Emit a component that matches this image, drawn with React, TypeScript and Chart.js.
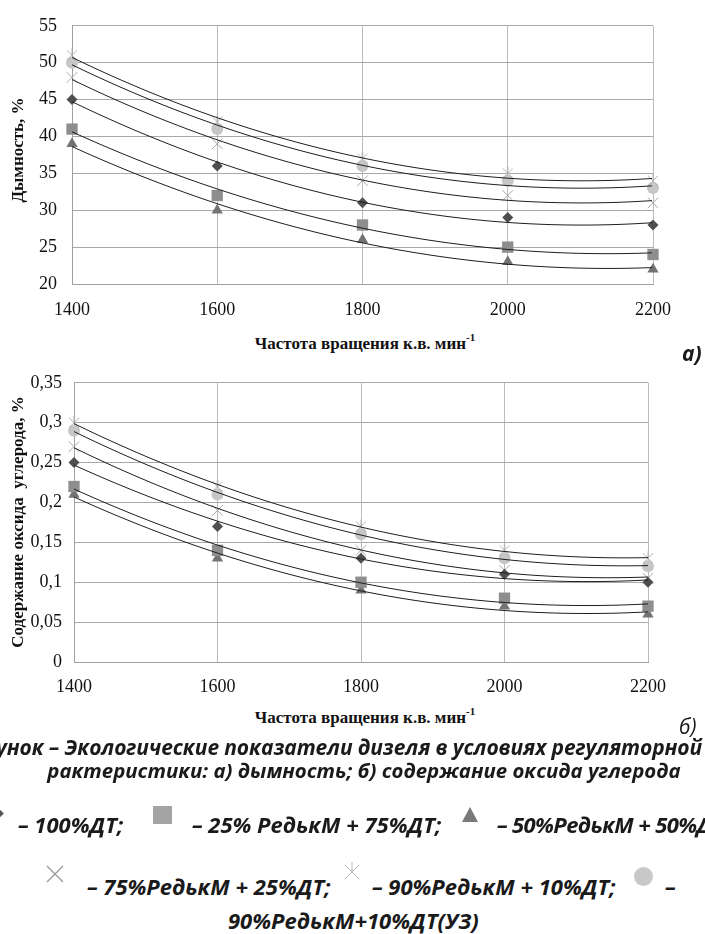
import React, { useEffect, useRef } from 'react';
import { Chart, registerables } from 'chart.js';

Chart.register(...registerables);

// ---------- data ----------
const rpm = [1400, 1600, 1800, 2000, 2200];
const xTicks = [1400, 1600, 1800, 2000, 2200];
const yTicksA = [20, 25, 30, 35, 40, 45, 50, 55];
const yTicksB = [0, 0.05, 0.1, 0.15, 0.2, 0.25, 0.3, 0.35];

const seriesNames = [
  '100%ДТ',
  '25% РедькМ + 75%ДТ',
  '50%РедькМ + 50%ДТ',
  '75%РедькМ + 25%ДТ',
  '90%РедькМ + 10%ДТ',
  '90%РедькМ+10%ДТ(УЗ)',
];

// а) дымность, %
const smokeDT100 = [45, 36, 31, 29, 28];
const smokeR25 = [41, 32, 28, 25, 24];
const smokeR50 = [39, 30, 26, 23, 22];
const smokeR75 = [48, 39, 34, 32, 31];
const smokeR90 = [51, 42, 37, 35, 34];
const smokeR90UZ = [50, 41, 36, 34, 33];

// б) содержание оксида углерода, %
const coDT100 = [0.25, 0.17, 0.13, 0.11, 0.1];
const coR25 = [0.22, 0.14, 0.1, 0.08, 0.07];
const coR50 = [0.21, 0.13, 0.09, 0.07, 0.06];
const coR75 = [0.27, 0.19, 0.14, 0.115, 0.105];
const coR90 = [0.3, 0.22, 0.17, 0.14, 0.13];
const coR90UZ = [0.29, 0.21, 0.16, 0.13, 0.12];

const smokeSeries = [smokeDT100, smokeR25, smokeR50, smokeR75, smokeR90, smokeR90UZ];
const coSeries = [coDT100, coR25, coR50, coR75, coR90, coR90UZ];

// ---------- helpers ----------
function quadFit(xs: number[], ys: number[]) {
  let s0 = 0, s1 = 0, s2 = 0, s3 = 0, s4 = 0, t0 = 0, t1 = 0, t2 = 0;
  const c0 = 1800, k = 400;
  for (let i = 0; i < xs.length; i++) {
    const t = (xs[i] - c0) / k;
    const y = ys[i];
    s0 += 1; s1 += t; s2 += t * t; s3 += t * t * t; s4 += t * t * t * t;
    t0 += y; t1 += y * t; t2 += y * t * t;
  }
  const det3 = (m: number[][]) =>
    m[0][0] * (m[1][1] * m[2][2] - m[1][2] * m[2][1]) -
    m[0][1] * (m[1][0] * m[2][2] - m[1][2] * m[2][0]) +
    m[0][2] * (m[1][0] * m[2][1] - m[1][1] * m[2][0]);
  const M = [[s0, s1, s2], [s1, s2, s3], [s2, s3, s4]];
  const R = [t0, t1, t2];
  const D = det3(M);
  const col = (j: number) => M.map((row, i) => row.map((v, jj) => (jj === j ? R[i] : v)));
  const a = det3(col(0)) / D;
  const b = det3(col(1)) / D;
  const c = det3(col(2)) / D;
  return (x: number) => {
    const t = (x - c0) / k;
    return a + b * t + c * t * t;
  };
}

const trendPlugin = {
  id: 'trendlines',
  afterDatasetsDraw(chart: any) {
    const { ctx } = chart;
    const xs = chart.scales.x;
    const ys = chart.scales.y;
    ctx.save();
    ctx.strokeStyle = '#1e1e1e';
    ctx.lineWidth = 1;
    chart.data.datasets.forEach((ds: any) => {
      const px = ds.data.map((p: any) => p.x);
      const py = ds.data.map((p: any) => p.y);
      const f = quadFit(px, py);
      const p0 = xs.getPixelForValue(px[0]);
      const p1 = xs.getPixelForValue(px[px.length - 1]);
      ctx.beginPath();
      for (let p = p0; p <= p1 + 0.01; p += 2) {
        const v = xs.getValueForPixel(Math.min(p, p1));
        const yy = ys.getPixelForValue(f(v));
        if (p === p0) ctx.moveTo(p, yy);
        else ctx.lineTo(Math.min(p, p1), yy);
      }
      ctx.stroke();
    });
    ctx.restore();
  },
};

function makeStar(color: string, size: number) {
  const c = document.createElement('canvas');
  c.width = size;
  c.height = size;
  const g = c.getContext('2d')!;
  g.strokeStyle = color;
  g.lineWidth = 1;
  const m = size / 2;
  const r = size / 2 - 1;
  const d = r * 0.72;
  g.beginPath();
  g.moveTo(m - d, m - d); g.lineTo(m + d, m + d);
  g.moveTo(m + d, m - d); g.lineTo(m - d, m + d);
  g.moveTo(m, m - r); g.lineTo(m, m + 1);
  g.stroke();
  return c;
}

function buildDatasets(series: number[][]) {
  const star = makeStar('#b0b0b0', 16);
  const styles: any[] = [
    { pointStyle: 'rectRot', radius: 5.5, backgroundColor: '#4f4f4f', borderColor: '#4f4f4f', borderWidth: 0 },
    { pointStyle: 'rect', radius: 8, backgroundColor: '#8e8e8e', borderColor: '#8e8e8e', borderWidth: 0 },
    { pointStyle: 'triangle', radius: 6.5, backgroundColor: '#737373', borderColor: '#737373', borderWidth: 0 },
    { pointStyle: 'crossRot', radius: 7.5, backgroundColor: '#a8a8a8', borderColor: '#a8a8a8', borderWidth: 1 },
    { pointStyle: star, radius: 8, backgroundColor: '#b0b0b0', borderColor: '#b0b0b0', borderWidth: 1 },
    { pointStyle: 'circle', radius: 6, backgroundColor: '#c6c6c6', borderColor: '#c6c6c6', borderWidth: 0 },
  ];
  return series.map((vals, i) => ({
    label: seriesNames[i],
    data: rpm.map((x, j) => ({ x, y: vals[j] })),
    showLine: false,
    clip: false,
    pointStyle: styles[i].pointStyle,
    pointRadius: styles[i].radius,
    pointBackgroundColor: styles[i].backgroundColor,
    pointBorderColor: styles[i].borderColor,
    pointBorderWidth: styles[i].borderWidth,
  }));
}

const tickFont = { family: '"Liberation Serif", "Times New Roman", serif', size: 18 };

function makeOptions(
  yMin: number, yMax: number, yTicks: number[], fmt: (v: number) => string,
  yPad: number, xPad: number, yWidth: number, xHeight: number, padding: any
) {
  return {
    responsive: false,
    animation: false as const,
    devicePixelRatio: 1,
    layout: { padding },
    plugins: { legend: { display: false }, tooltip: { enabled: false } },
    events: [] as any[],
    scales: {
      x: {
        type: 'linear' as const,
        min: 1400,
        max: 2200,
        afterBuildTicks: (s: any) => { s.ticks = xTicks.map((v) => ({ value: v })); },
        afterFit: (s: any) => { s.height = xHeight; },
        grid: { color: '#bcbcbc', lineWidth: 1, drawTicks: false },
        border: { color: '#a0a0a0', width: 1 },
        ticks: { font: tickFont, color: '#111', padding: xPad, maxRotation: 0, autoSkip: false, callback: (v: any) => String(v) },
      },
      y: {
        type: 'linear' as const,
        min: yMin,
        max: yMax,
        afterBuildTicks: (s: any) => { s.ticks = yTicks.map((v) => ({ value: v })); },
        afterFit: (s: any) => { s.width = yWidth; },
        grid: { color: '#a8a8a8', lineWidth: 1, drawTicks: false },
        border: { color: '#a0a0a0', width: 1 },
        ticks: { font: tickFont, color: '#111', padding: yPad, autoSkip: false, callback: (v: any) => fmt(v) },
      },
    },
  };
}

// ---------- component ----------
const serif = '"Liberation Serif", "Times New Roman", serif';
const capBase: React.CSSProperties = {
  position: 'absolute',
  fontFamily: '"Open Sans", Lato, sans-serif',
  fontWeight: 700,
  fontStyle: 'italic',
  fontSize: 21,
  lineHeight: '21px',
  color: '#1a1a1a',
  whiteSpace: 'pre',
};
const legBase: React.CSSProperties = { ...capBase, fontSize: 22, lineHeight: '22px' };

function Cap({ left, top, children, center, size, ls }: { left: number; top: number; children: any; center?: boolean; size?: number; ls?: number }) {
  return (
    <div style={{ ...capBase, left, top, fontSize: size ?? 21, letterSpacing: ls ?? 0, transform: center ? 'translateX(-50%)' : undefined }}>{children}</div>
  );
}
function Leg({ left, top, children, ls }: { left: number; top: number; children: any; ls?: number }) {
  return <div style={{ ...legBase, left, top, letterSpacing: ls ?? 0 }}>{children}</div>;
}

export default function App() {
  const refA = useRef<HTMLCanvasElement>(null);
  const refB = useRef<HTMLCanvasElement>(null);

  useEffect(() => {
    const chartA = new Chart(refA.current!, {
      type: 'scatter',
      data: { datasets: buildDatasets(smokeSeries) as any },
      options: makeOptions(20, 55, yTicksA, (v) => String(v), 15, 15, 72, 46, { top: 15, right: 52, left: 0, bottom: 0 }) as any,
      plugins: [trendPlugin],
    });
    const chartB = new Chart(refB.current!, {
      type: 'scatter',
      data: { datasets: buildDatasets(coSeries) as any },
      options: makeOptions(0, 0.35, yTicksB, (v) => String(Math.round(v * 100) / 100).replace('.', ','), 12, 14, 74, 38, { top: 22, right: 57, left: 0, bottom: 0 }) as any,
      plugins: [trendPlugin],
    });
    return () => {
      chartA.destroy();
      chartB.destroy();
    };
  }, []);

  const yTitle = (top: number): React.CSSProperties => ({
    position: 'absolute',
    left: 17,
    top,
    transform: 'translate(-50%, -50%) rotate(-90deg)',
    fontFamily: serif,
    fontWeight: 700,
    fontSize: 17,
    lineHeight: '17px',
    whiteSpace: 'pre',
    color: '#111',
  });

  const xTitle = (top: number): React.CSSProperties => ({
    position: 'absolute',
    left: 365,
    top,
    transform: 'translateX(-50%)',
    fontFamily: serif,
    fontWeight: 700,
    fontSize: 17,
    lineHeight: '17px',
    whiteSpace: 'pre',
    color: '#111',
  });

  const supStyle: React.CSSProperties = { fontSize: 11, verticalAlign: 'top', lineHeight: '11px', position: 'relative', top: -3 };

  return (
    <div style={{ position: 'absolute', left: 0, top: 0, width: 705, height: 934, overflow: 'hidden', background: '#fff' }}>
      <canvas ref={refA} width={705} height={330} style={{ position: 'absolute', left: 0, top: 0 }} />
      <canvas ref={refB} width={705} height={340} style={{ position: 'absolute', left: 0, top: 360 }} />

      <div style={yTitle(150)}>Дымность, %</div>
      <div style={yTitle(522)}>Содержание оксида  углерода, %</div>

      <div style={xTitle(335)}>
        Частота вращения к.в. мин<sup style={supStyle}>-1</sup>
      </div>
      <div style={xTitle(709)}>
        Частота вращения к.в. мин<sup style={supStyle}>-1</sup>
      </div>

      <div style={{ ...capBase, left: 682, top: 343 }}>а)</div>
      <div style={{ ...capBase, left: 679, top: 716, fontWeight: 400 }}>б)</div>

      <Cap left={-4} top={737} ls={-0.12}>унок – Экологические показатели дизеля в условиях регуляторной</Cap>
      <Cap left={364} top={760} center size={20.4}>рактеристики: а) дымность; б) содержание оксида углерода</Cap>

      {/* legend row 1 */}
      <div style={{ position: 'absolute', left: -7, top: 809, width: 9, height: 9, background: '#555', transform: 'rotate(45deg)' }} />
      <Leg left={18} top={813}>– 100%ДТ;</Leg>
      <div style={{ position: 'absolute', left: 153, top: 806, width: 19, height: 18, background: '#a4a4a4' }} />
      <Leg left={192} top={813}>– 25% РедькМ + 75%ДТ;</Leg>
      <div style={{ position: 'absolute', left: 462, top: 807, width: 0, height: 0, borderLeft: '8px solid transparent', borderRight: '8px solid transparent', borderBottom: '15px solid #7a7a7a' }} />
      <Leg left={497} top={813} ls={-0.6}>– 50%РедькМ + 50%Д</Leg>

      {/* legend row 2 */}
      <svg style={{ position: 'absolute', left: 46, top: 865 }} width={18} height={18}>
        <line x1={1} y1={1} x2={17} y2={17} stroke="#9a9a9a" strokeWidth={1.2} />
        <line x1={17} y1={1} x2={1} y2={17} stroke="#9a9a9a" strokeWidth={1.2} />
      </svg>
      <Leg left={87} top={875}>– 75%РедькМ + 25%ДТ;</Leg>
      <svg style={{ position: 'absolute', left: 344, top: 862 }} width={16} height={18}>
        <line x1={1} y1={3} x2={15} y2={17} stroke="#b8b8b8" strokeWidth={1} />
        <line x1={15} y1={3} x2={1} y2={17} stroke="#b8b8b8" strokeWidth={1} />
        <line x1={8} y1={0} x2={8} y2={10} stroke="#b8b8b8" strokeWidth={1} />
      </svg>
      <Leg left={372} top={875}>– 90%РедькМ + 10%ДТ;</Leg>
      <div style={{ position: 'absolute', left: 634, top: 867, width: 19, height: 19, borderRadius: '50%', background: '#c8c8c8' }} />
      <Leg left={665} top={875}>–</Leg>

      {/* legend row 3 */}
      <Leg left={228} top={909}>90%РедькМ+10%ДТ(УЗ)</Leg>
    </div>
  );
}
